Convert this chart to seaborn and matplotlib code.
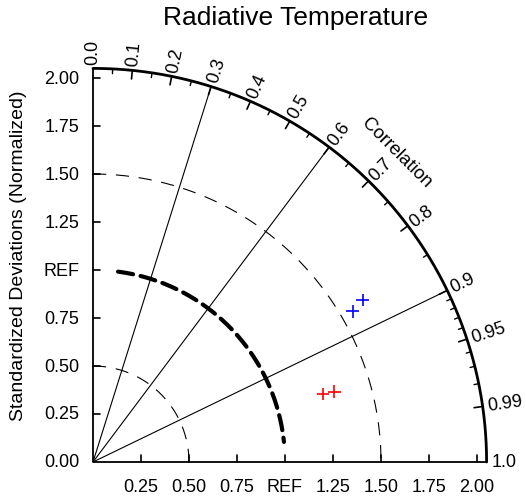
import numpy as np
import pandas as pd
import matplotlib
matplotlib.use("Agg")
import matplotlib.pyplot as plt
import seaborn as sns

# ---- data ----
title = "Radiative Temperature"
ylabel = "Standardized Deviations (Normalized)"
y_ticks = [0.00, 0.25, 0.50, 0.75, 1.00, 1.25, 1.50, 1.75, 2.00]
y_tick_labels = ["0.00", "0.25", "0.50", "0.75", "REF", "1.25", "1.50", "1.75", "2.00"]
x_ticks = [0.25, 0.50, 0.75, 1.00, 1.25, 1.50, 1.75, 2.00]
x_tick_labels = ["0.25", "0.50", "0.75", "REF", "1.25", "1.50", "1.75", "2.00"]
corr_major = [0.0, 0.1, 0.2, 0.3, 0.4, 0.5, 0.6, 0.7, 0.8, 0.9, 0.95, 0.99, 1.0]
corr_major_labels = ["0.0", "0.1", "0.2", "0.3", "0.4", "0.5", "0.6", "0.7", "0.8", "0.9", "0.95", "0.99", "1.0"]
corr_minor = [0.05, 0.15, 0.25, 0.35, 0.45, 0.55, 0.65, 0.75, 0.85,
              0.91, 0.92, 0.93, 0.94, 0.96, 0.97, 0.98]
corr_rays = [0.3, 0.6, 0.9]
std_circles = [0.5, 1.5]
ref_std = 1.0
max_std = 2.05

model_case = ["A", "A", "B", "B"]
model_std = [1.563, 1.639, 1.248, 1.310]
model_corr = [0.865, 0.857, 0.959, 0.960]
case_colors = {"A": "#0000ff", "B": "#ff0000"}

# ---- style ----
sns.set_style("white")
plt.rcParams["font.family"] = ["Liberation Sans", "DejaVu Sans"]
plt.rcParams["text.color"] = "black"
plt.rcParams["lines.scale_dashes"] = False

W, H, DPI = 526, 502, 100
fig = plt.figure(figsize=(W / DPI, H / DPI), dpi=DPI)
ax = fig.add_axes([0, 0, 1, 1])
ox, oy, s = 93.0, 463.0, 192.0

k = "black"
fs = 13
# axes
ax.plot([0, 0], [0, max_std], color=k, lw=1.3, solid_capstyle="butt")
ax.plot([0, max_std], [0, 0], color=k, lw=1.3, solid_capstyle="butt")
th = np.linspace(0, np.pi / 2, 400)
ax.plot(max_std * np.cos(th), max_std * np.sin(th), color=k, lw=2.0)

# std ticks / labels
tl = 0.035
for v, lab in zip(y_ticks, y_tick_labels):
    if v > 0:
        ax.plot([0, tl], [v, v], color=k, lw=1.2)
    ax.text(-0.07, v, lab, ha="right", va="center", fontsize=fs, color=k)
for v, lab in zip(x_ticks, x_tick_labels):
    ax.plot([v, v], [0, tl], color=k, lw=1.2)
    ax.text(v, -0.13, lab, ha="center", va="center", fontsize=fs, color=k)

# correlation ticks
for c in corr_major:
    a = np.arccos(c)
    if 0 < c < 1:
        ax.plot([max_std * np.cos(a), (max_std - 0.045) * np.cos(a)],
                [max_std * np.sin(a), (max_std - 0.045) * np.sin(a)], color=k, lw=1.2)
for c in corr_minor:
    a = np.arccos(c)
    ax.plot([max_std * np.cos(a), (max_std - 0.025) * np.cos(a)],
            [max_std * np.sin(a), (max_std - 0.025) * np.sin(a)], color=k, lw=1.0)
for c, lab in zip(corr_major, corr_major_labels):
    a = np.arccos(c)
    r = max_std + 0.025
    ax.text(r * np.cos(a), r * np.sin(a), lab, rotation=np.degrees(a),
            rotation_mode="anchor", ha="left", va="center", fontsize=fs, color=k)

# rays
for c in corr_rays:
    a = np.arccos(c)
    ax.plot([0, max_std * np.cos(a)], [0, max_std * np.sin(a)], color=k, lw=0.8)

# std circles
for r in std_circles:
    ax.plot(r * np.cos(th[::-1]), r * np.sin(th[::-1]), color=k, lw=0.8,
            dashes=(9.5, 7))
thr = np.linspace(np.radians(82.5), np.radians(6), 300)
ax.plot(ref_std * np.cos(thr), ref_std * np.sin(thr), color=k, lw=3.0,
        dashes=(11, 5.5), solid_capstyle="round", dash_capstyle="round")

# Correlation label
ra, aa = 2.26, np.radians(45.6)
ax.text(ra * np.cos(aa), ra * np.sin(aa), "Correlation", rotation=-45,
        ha="center", va="center", rotation_mode="anchor", fontsize=13.5, color=k)

# data points
df = pd.DataFrame({"case": model_case, "std": model_std, "corr": model_corr})
df["x"] = df["std"] * df["corr"]
df["y"] = df["std"] * np.sqrt(1 - df["corr"] ** 2)
sns.scatterplot(data=df, x="x", y="y", hue="case", palette=case_colors,
                marker="+", s=80, linewidth=1.2, legend=False, ax=ax, zorder=5)
ax.axis("off")
ax.set_xlim(-ox / s, (W - ox) / s)
ax.set_ylim(-(H - oy) / s, oy / s)

fig.text(296 / W, 1 - 18 / H, title, ha="center", va="center", fontsize=19, color=k)
fig.text(19 / W, 1 - 256 / H, ylabel, rotation=90, ha="center", va="center", fontsize=14, color=k)

fig.savefig("out.png", dpi=DPI)
